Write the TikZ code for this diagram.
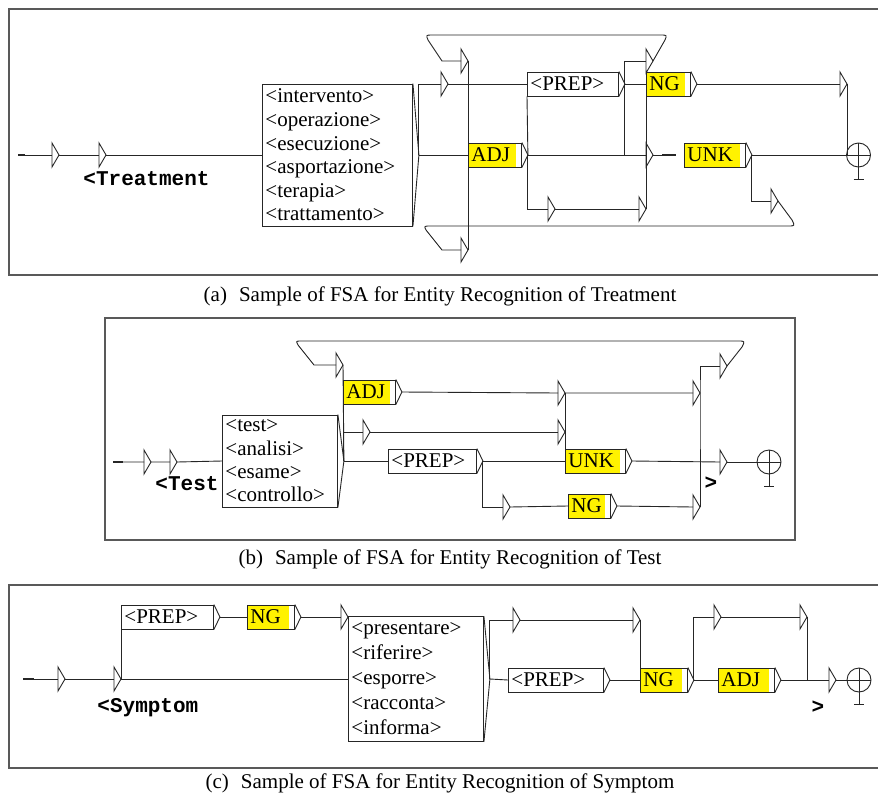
\documentclass[tikz,border=0pt]{standalone}
\usepackage{fontspec}
\setmainfont{Liberation Serif}
\newfontfamily\codefont{Liberation Mono}

\newcommand{\tipof}[1]{\draw (#1.north east) -- ([xshift=6pt]#1.east) coordinate (#1-o) -- (#1.south east);}

\tikzset{
  eps/.pic={\draw (0,-12) -- (7,0) -- (0,12) -- cycle;
    \coordinate (-w) at (0,0); \coordinate (-e) at (7,0);},
  fin/.pic={\draw (0,0) circle (12pt);
    \draw (-12,0) -- (12,0) (0,-12) -- (0,24) (-5,24) -- (5,24);
    \coordinate (-w) at (-12,0);}
}

\begin{document}
\begin{tikzpicture}[x=1pt,y=-1pt,line width=0.9pt,color=black!85]
\tikzstyle{every node}=[text=black,inner sep=0pt,font=\fontsize{21}{24}\selectfont]
\tikzstyle{frame}=[line width=1.6pt,black!65]
\tikzstyle{stub}=[line width=2.6pt]
\tikzstyle{tag}=[anchor=base west,font=\codefont\bfseries\fontsize{21}{24}\selectfont]
\tikzstyle{listbox}=[draw,anchor=west,align=left,inner xsep=3pt,text width=#1]
\tikzstyle{cat}=[draw,anchor=west,minimum height=24pt,inner xsep=3pt,align=left,text width=#1]
\tikzstyle{hl}=[path picture={\fill[yellow] ([xshift=-5pt]path picture bounding box.north east) rectangle (path picture bounding box.south west);}]
\fill[white] (0,0) rectangle (878,795);
\useasboundingbox (0,0) rectangle (878,795);

% (a) Treatment
\draw[frame] (878,9) -| (9,275) -- (878,275);
\coordinate (a0) at (18,155);
\draw[stub] (a0) -- ++(7,0);
\pic (a1) at (52,155) {eps};
\pic (a2) at (99,155) {eps};
\node[tag] (atag) at (83,185) {<Treatment};
\node[listbox=144pt,minimum height=142pt,font=\fontsize{21}{23.6}\selectfont] (alist) at (262,155)
  {<intervento>\\<operazione>\\<esecuzione>\\<asportazione>\\<terapia>\\<trattamento>};
\tipof{alist}
\pic (a3) at (441,84) {eps};
\node[cat=47pt,hl] (aadj) at (468,155) {ADJ};
\tipof{aadj}
\node[cat=85pt] (aprep) at (527,84) {<PREP>};
\tipof{aprep}
\node[cat=38pt,hl] (ang) at (646,84) {NG};
\tipof{ang}
\node[cat=55pt,hl] (aunk) at (684,155) {UNK};
\tipof{aunk}
\pic (a4) at (646,61) {eps};
\pic (a5) at (646,155) {eps};
\pic (a6) at (461,61) {eps};
\pic (a7) at (461,250) {eps};
\pic (a8) at (548,209) {eps};
\pic (a9) at (639,209) {eps};
\pic (a10) at (840,84) {eps};
\pic (a11) at (771,201) {eps};
\pic (aend) at (858.5,155) {fin};
\coordinate (adash) at (662,155);

\draw (a0) -- (a1-w) (a1-e) -- (a2-w) (a2-e) -- (alist.west);
\draw (alist-o) -- (aadj.west);
\draw (alist-o) |- (a3-w);
\draw (a3-e) -- (aprep.west);
\draw (aprep-o) -- (ang.west);
\draw (ang-o) -- (a10-w);
\draw (a10-e) |- (aend-w);
\draw (aadj-o) -- (aprep.south west);
\draw (aadj-o) |- (a8-w);
\draw (a8-e) -- (a9-w);
\draw (a9-e) -- (ang.south west);
\draw (aadj-o) -- (a5-w);
\draw (aprep-o) |- (a4-w);
\draw (aprep-o) -- (aprep-o |- a5-w);
\draw (a5-e) -- (adash);
\draw[stub] (adash) -- ++(14,0);
\draw (aunk-o) -- (aend-w);
\draw (aunk-o) |- (a11-w);
\draw (a6-e) -- (a7-e);
\draw (a4-e) -- (665,40) .. controls (667,35) .. (660,35) -- (432,35) .. controls (426,35) .. (428,40) -- (442,61) -- (a6-w);
\draw (a11-e) -- (792,220) .. controls (795,226) .. (788,226) -- (431,226) .. controls (424,226) .. (426,230) -- (442,250) -- (a7-w);

\node[anchor=base] (capa) at (440,301) {(a)\hspace{12pt}Sample of FSA for Entity Recognition of Treatment};

% (b) Test
\draw[frame] (105,318) rectangle (795,540);
\coordinate (b0) at (113,462);
\draw[stub] (b0) -- ++(10,0);
\pic (b1) at (144,462) {eps};
\pic (b2) at (170,462) {eps};
\node[tag] (btag) at (155,490) {<Test};
\node[listbox=109pt,minimum height=92pt,font=\fontsize{21}{23.3}\selectfont] (blist) at (222,461)
  {<test>\\<analisi>\\<esame>\\<controllo>};
\tipof{blist}
\node[cat=46pt,hl] (badj) at (343,392) {ADJ};
\tipof{badj}
\node[cat=82pt] (bprep) at (388,461) {<PREP>};
\tipof{bprep}
\node[cat=54pt,hl] (bunk) at (565,461) {UNK};
\tipof{bunk}
\node[cat=36pt,hl] (bng) at (568,506) {NG};
\tipof{bng}
\pic (b3) at (336,365) {eps};
\pic (b4) at (363,432) {eps};
\pic (b5) at (558,393) {eps};
\pic (b6) at (558,432) {eps};
\pic (b7) at (693,393) {eps};
\pic (b8) at (503,507) {eps};
\pic (b9) at (693,507) {eps};
\pic (b10) at (720,462) {eps};
\pic (b11) at (720,366) {eps};
\pic (bend) at (769,462) {fin};
\node[tag,anchor=center] (bgt) at (711,483) {>};

\draw (b0) -- (b1-w) (b1-e) -- (b2-w) (b2-e) -- (blist.west);
\draw (blist-o) -- (b3-e);
\draw (blist-o) |- (b4-w);
\draw (blist-o) -- (bprep.west);
\draw (badj-o) -- (b5-w) (b5-e) -- (b7-w);
\draw (b4-e) -- (b6-w);
\draw (b5-e) -- (bunk.north west);
\draw (bprep-o) -- (bunk.west);
\draw (bprep-o) |- (b8-w);
\draw (b8-e) -- (bng.west);
\draw (bng-o) -- (b9-w);
\draw (bunk-o) -- (b10-w);
\draw (b10-e) -- (bend-w);
\draw (b9-e) -- (b7-e) |- (b11-w);
\draw (b11-e) -- (742,347) .. controls (745,341) .. (738,341) -- (301,341) .. controls (296,341) .. (298,345) -- (314,365) -- (b3-w);

\node[anchor=base] (capb) at (450,564) {(b)\hspace{12pt}Sample of FSA for Entity Recognition of Test};

% (c) Symptom
\draw[frame] (878,585) -| (9,768) -- (878,768);
\coordinate (c0) at (23,679);
\draw[stub] (c0) -- ++(11,0);
\pic (c1) at (58,679) {eps};
\pic (c2) at (114,679) {eps};
\node[tag] (ctag) at (97,712) {<Symptom};
\node[cat=86pt] (cprep) at (121,617) {<PREP>};
\tipof{cprep}
\node[cat=41pt,hl] (cng) at (247,617) {NG};
\tipof{cng}
\pic (c3) at (341,617) {eps};
\node[listbox=129pt,minimum height=125pt,font=\fontsize{21}{25}\selectfont] (clist) at (348,679)
  {<presentare>\\<riferire>\\<esporre>\\<racconta>\\<informa>};
\tipof{clist}
\node[cat=89pt] (cprep2) at (508,680) {<PREP>};
\tipof{cprep2}
\node[cat=41pt,hl] (cng2) at (640,680) {NG};
\tipof{cng2}
\node[cat=50pt,hl] (cadj) at (718,680) {ADJ};
\tipof{cadj}
\pic (c4) at (513,620) {eps};
\pic (c5) at (633,620) {eps};
\pic (c6) at (714,617) {eps};
\pic (c7) at (800,617) {eps};
\pic (c8) at (829,680) {eps};
\pic (cend) at (859,680) {fin};
\coordinate (cjoin) at (807,680);
\node[tag,anchor=center] (cgt) at (818,707) {>};

\draw (c0) -- (c1-w) (c1-e) -- (c2-w) (c2-e) -- (clist.west);
\draw (c2-e) -- (cprep.south west);
\draw (cprep-o) -- (cng.west);
\draw (cng-o) -- (c3-w);
\draw (c3-e) -- (clist.north west);
\draw (clist-o) |- (c4-w);
\draw (c4-e) -- (c5-w);
\draw (c5-e) -- (cng2.north west);
\draw (clist-o) -- (cprep2.west);
\draw (cprep2-o) -- (cng2.west);
\draw (cng2-o) -- (cadj.west);
\draw (cng2-o) |- (c6-w);
\draw (c6-e) -- (c7-w);
\draw (c7-e) -- (cjoin);
\draw (cadj-o) -- (c8-w);
\draw (c8-e) -- (cend-w);

\node[anchor=base] (capc) at (440,788) {(c)\hspace{12pt}Sample of FSA for Entity Recognition of Symptom};
\end{tikzpicture}
\end{document}
